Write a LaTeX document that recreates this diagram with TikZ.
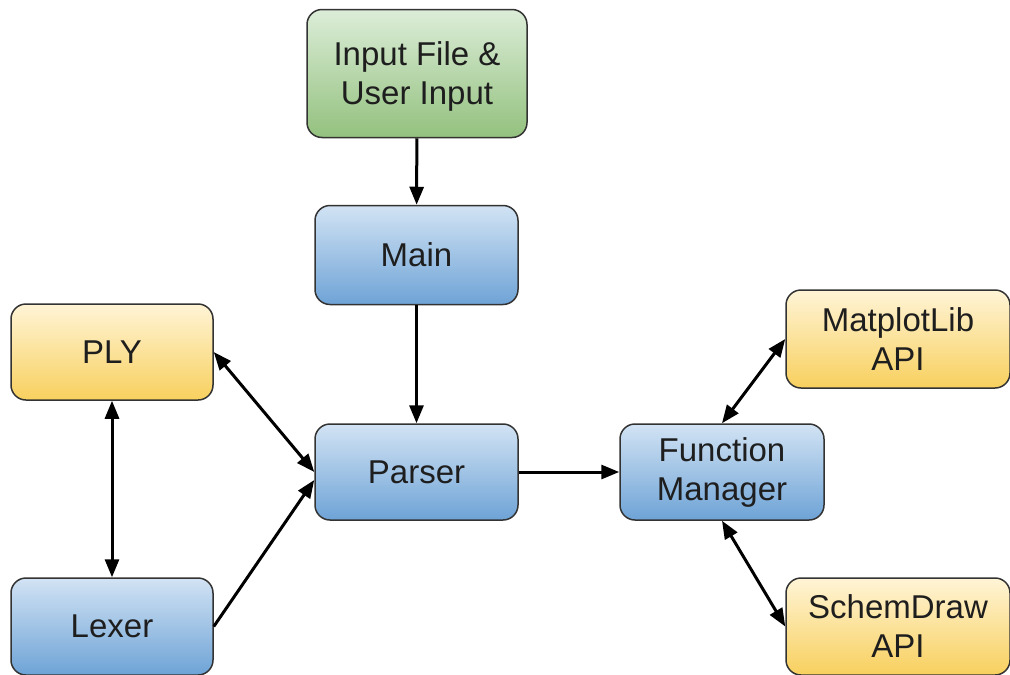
\documentclass[tikz,border=0pt]{standalone}
\usepackage{fontspec}
\setmainfont{Liberation Sans}
\usetikzlibrary{arrows.meta}
\definecolor{bordc}{HTML}{333333}
\definecolor{txtc}{HTML}{1E1E1E}
\definecolor{bluetop}{HTML}{D2E3F4}
\definecolor{bluebot}{HTML}{6EA3D6}
\definecolor{yeltop}{HTML}{FFF4D6}
\definecolor{yelbot}{HTML}{F8D05E}
\definecolor{grntop}{HTML}{DCEDD8}
\definecolor{grnbot}{HTML}{93C17E}
\tikzset{
  box/.style={draw=bordc, line width=1.5pt, rounded corners=15pt, align=center,
    text=txtc, inner sep=0pt, font=\fontsize{33}{39}\selectfont},
  bluebox/.style={box, top color=bluetop, bottom color=bluebot},
  yelbox/.style={box, top color=yeltop, bottom color=yelbot},
  grnbox/.style={box, top color=grntop, bottom color=grnbot},
  conn/.style={line width=3pt, -{Triangle[length=18pt,width=14pt]}},
  biconn/.style={line width=3pt, {Triangle[length=18pt,width=14pt]}-{Triangle[length=18pt,width=14pt]}}
}
\begin{document}
\begin{tikzpicture}[x=1pt,y=-1pt]
\useasboundingbox (0,0) rectangle (1010,675);
\node[grnbox, minimum width=220pt, minimum height=128pt, text depth=0pt] (input) at (417,73.5) {Input File \&\\User Input};
\node[bluebox, minimum width=203pt, minimum height=99pt] (main) at (416.5,255) {Main};
\node[bluebox, minimum width=203pt, minimum height=96pt] (parser) at (416.5,472) {Parser};
\node[yelbox, minimum width=202pt, minimum height=96pt] (ply) at (112,352) {PLY};
\node[bluebox, minimum width=202pt, minimum height=97pt] (lexer) at (112,626.5) {Lexer};
\node[bluebox, minimum width=204pt, minimum height=96pt] (fm) at (722,472) {Function\\Manager};
\node[yelbox, minimum width=224pt, minimum height=98pt] (mpl) at (898,339) {MatplotLib\\API};
\node[yelbox, minimum width=224pt, minimum height=97pt] (schem) at (898,626.5) {SchemDraw\\API};
\draw[conn] (input) -- (main);
\draw[conn] (main) -- (parser);
\draw[biconn] (ply.east) -- (parser.west);
\draw[conn] (lexer.east) -- ([yshift=-8pt]parser.west);
\draw[biconn] (ply) -- (lexer);
\draw[conn] (parser) -- (fm);
\draw[biconn] (fm.north) -- (mpl.west);
\draw[biconn] (fm.south) -- (schem.west);
\end{tikzpicture}
\end{document}
